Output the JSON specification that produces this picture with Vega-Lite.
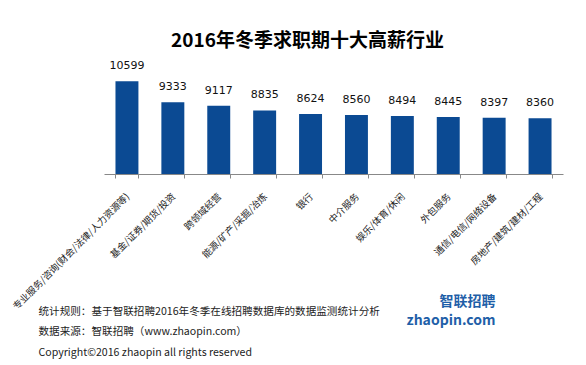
{
  "$schema": "https://vega.github.io/schema/vega-lite/v6.json",
  "width": 459,
  "height": 116,
  "autosize": {"type": "none"},
  "padding": {"left": 104, "top": 58, "right": 23, "bottom": 191},
  "background": "white",
  "config": {"view": {"stroke": null}, "font": "Noto Sans CJK SC"},
  "title": {
    "text": "2016年冬季求职期十大高薪行业",
    "fontSize": 19,
    "fontWeight": "bold",
    "font": "Noto Sans CJK SC",
    "color": "#000000",
    "anchor": "middle",
    "dx": -26,
    "offset": 7
  },
  "data": {
    "values": [
      {"industry": "专业服务/咨询(财会/法律/人力资源等)", "salary": 10599},
      {"industry": "基金/证券/期货/投资", "salary": 9333},
      {"industry": "跨领域经营", "salary": 9117},
      {"industry": "能源/矿产/采掘/冶炼", "salary": 8835},
      {"industry": "银行", "salary": 8624},
      {"industry": "中介服务", "salary": 8560},
      {"industry": "娱乐/体育/休闲", "salary": 8494},
      {"industry": "外包服务", "salary": 8445},
      {"industry": "通信/电信/网络设备", "salary": 8397},
      {"industry": "房地产/建筑/建材/工程", "salary": 8360}
    ]
  },
  "encoding": {
    "x": {
      "field": "industry",
      "type": "nominal",
      "sort": null,
      "scale": {"paddingInner": 0.5, "paddingOuter": 0.25},
      "axis": {
        "labelAngle": -45,
        "labelFontSize": 9.5,
        "labelColor": "#222222",
        "labelFont": "Noto Sans CJK SC",
        "labelPadding": 13,
        "labelOffset": -3,
        "labelLimit": 300,
        "tickBand": "extent",
        "tickColor": "#888888",
        "tickSize": 4,
        "domainColor": "#888888",
        "title": [
          "统计规则：基于智联招聘2016年冬季在线招聘数据库的数据监测统计分析",
          "数据来源：智联招聘（www.zhaopin.com）",
          "Copyright©2016 zhaopin all rights reserved"
        ],
        "titleFont": "Noto Sans CJK SC",
        "titleFontSize": 10.6,
        "titleFontWeight": "normal",
        "titleColor": "#222222",
        "titleLineHeight": 20.5,
        "titleX": -66,
        "titleY": 132,
        "titleAlign": "left",
        "titleAnchor": "start",
        "titleBaseline": "top"
      }
    },
    "y": {
      "field": "salary",
      "type": "quantitative",
      "scale": {"domain": [5000, 12000], "zero": false},
      "axis": {
        "orient": "right",
        "labels": false,
        "ticks": false,
        "domain": false,
        "grid": false,
        "title": ["智联招聘", "zhaopin.com"],
        "titleAngle": 0,
        "titleAlign": "right",
        "titleBaseline": "top",
        "titleX": -68,
        "titleY": 236,
        "titleFontSize": 14,
        "titleFontWeight": "bold",
        "titleColor": "#1F5FA8",
        "titleLineHeight": 19,
        "titleFont": "Noto Sans CJK SC"
      }
    }
  },
  "layer": [
    {
      "mark": {"type": "bar", "color": "#0B4A93"},
      "encoding": {"y2": {"datum": 5000}}
    },
    {
      "mark": {
        "type": "text",
        "baseline": "middle",
        "dy": -15,
        "font": "DejaVu Sans",
        "fontSize": 11,
        "color": "#111111"
      },
      "encoding": {"text": {"field": "salary", "type": "quantitative", "format": "d"}}
    }
  ]
}
